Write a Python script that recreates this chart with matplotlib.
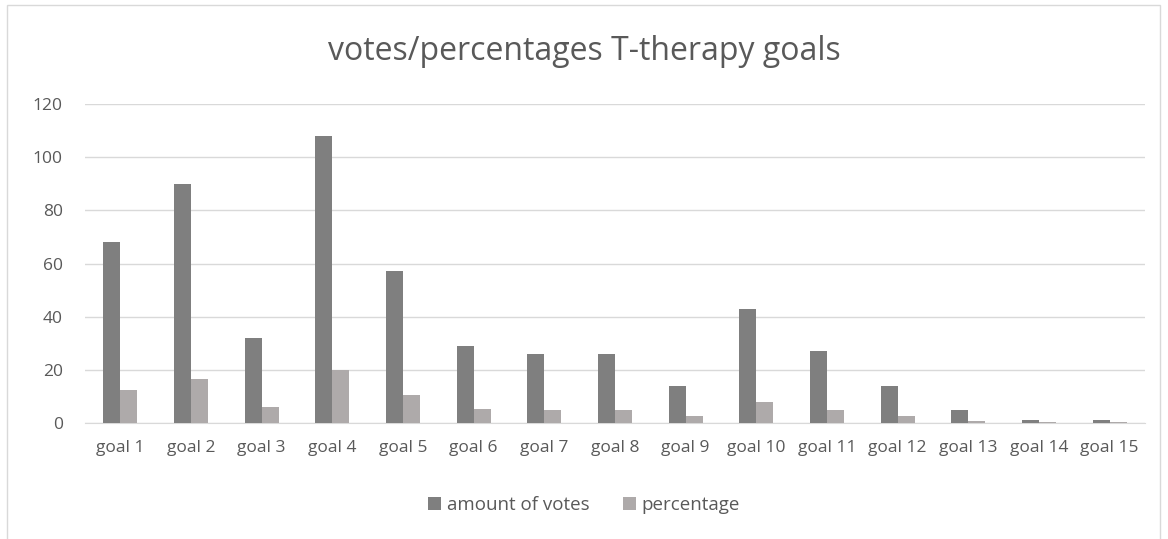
import numpy as np
import matplotlib.pyplot as plt
from matplotlib.patches import Rectangle

goals = ['goal 1', 'goal 2', 'goal 3', 'goal 4', 'goal 5', 'goal 6', 'goal 7', 'goal 8',
         'goal 9', 'goal 10', 'goal 11', 'goal 12', 'goal 13', 'goal 14', 'goal 15']
votes = [68, 90, 32, 108, 57, 29, 26, 26, 14, 43, 27, 14, 5, 1, 1]
percentage = [12.6, 16.6, 5.9, 20.0, 10.5, 5.4, 4.8, 4.8, 2.6, 7.9, 5.0, 2.6, 0.9, 0.2, 0.2]

plt.rcParams['font.family'] = ['Open Sans', 'DejaVu Sans']
txt = '#595959'

fig = plt.figure(figsize=(11.68, 5.39), dpi=100)
ax = fig.add_axes([85/1168, 1-423/539, (1145-85)/1168, (423-104)/539])

x = np.arange(len(goals))
w = 0.24
ax.bar(x - w/2, votes, w, color='#7f7f7f', label='amount of votes', zorder=3)
ax.bar(x + w/2, percentage, w, color='#aeaaaa', label='percentage', zorder=3)

ax.set_xlim(-0.5, len(goals) - 0.5)
ax.set_ylim(0, 120)
ax.set_yticks(range(0, 121, 20))
ax.set_xticks(x)
ax.set_xticklabels(goals)
ax.yaxis.grid(True, color='#d9d9d9', linewidth=1, zorder=0)
for s in ['top', 'right', 'left']:
    ax.spines[s].set_visible(False)
ax.spines['bottom'].set_color('#d9d9d9')
ax.tick_params(length=0, labelsize=12.5, colors=txt, pad=12)
ax.tick_params(axis='y', pad=16)

fig.text(0.5, 1-52/539, 'votes/percentages T-therapy goals', ha='center', va='center',
         fontsize=23, color=txt)
fig.legend(loc='center', bbox_to_anchor=(0.5, 1-505/539), ncol=2, frameon=False,
           fontsize=13.5, labelcolor=txt, handlelength=0.7, handleheight=0.7,
           columnspacing=1.8, handletextpad=0.3)

fig.patches.append(Rectangle((7/1168, -0.1), (1160-7)/1168, 1.1 - 5/539,
                             transform=fig.transFigure, fill=False,
                             edgecolor='#d9d9d9', linewidth=1))

fig.savefig('out.png', dpi=100)
